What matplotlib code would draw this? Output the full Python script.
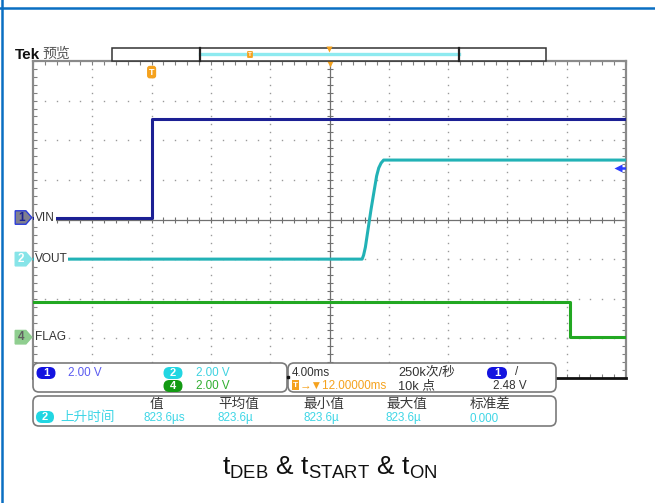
import numpy as np
import matplotlib
matplotlib.use('Agg')
import matplotlib.pyplot as plt
from matplotlib.patches import FancyBboxPatch, Polygon, Rectangle
from matplotlib.transforms import blended_transform_factory

plt.rcParams['font.family'] = ['Liberation Sans', 'Noto Sans CJK SC', 'DejaVu Sans']
plt.rcParams['mathtext.fontset'] = 'custom'
plt.rcParams['mathtext.rm'] = 'Liberation Sans'

# scope settings
time_per_div = 4.0          # ms/div
time_center = 12.0          # ms, horizontal position
volts_per_div = 2.0
ch_pos = {'VIN': 0.05, 'VOUT': -1.0, 'FLAG': -2.97}   # divisions
trig_level = 2.48

# waveforms (time in ms, level in V)
vin_t = [-8.0, 0.0, 0.0, 32.0]
vin_v = [0.0, 0.0, 4.97, 4.97]

vout_t = [-8.0, 14.20, 14.30, 14.42, 14.60, 14.80, 15.00, 15.18, 15.32, 15.48, 15.65, 32.0]
vout_v = [0.0, 0.0, 0.2, 0.6, 1.5, 2.5, 3.4, 4.2, 4.6, 4.85, 5.0, 5.0]

flag_t = [-8.0, 28.2, 28.2, 32.0]
flag_v = [1.77, 1.77, 0.0, 0.0]

# measurement readout
meas_names = ['值', '平均值', '最小值', '最大值', '标准差']
meas_vals = ['823.6µs', '823.6µ', '823.6µ', '823.6µ', '0.000']

W, H = 655, 503
fig = plt.figure(figsize=(W / 100, H / 100), dpi=100)
fig.patch.set_facecolor('white')

ax = fig.add_axes([33 / W, 1 - 378 / H, 593 / W, 317 / H])
x0 = time_center - 5 * time_per_div
x1 = time_center + 5 * time_per_div
ax.set_xlim(x0, x1)
ax.set_ylim(-4, 4)

grid_c = '#9a9a9a'
minor_x = np.arange(x0, x1 + 1e-9, time_per_div / 5)
minor_y = np.arange(-4, 4 + 1e-9, 0.2)
major_x = np.arange(x0 + time_per_div, x1 - 1e-9, time_per_div)
major_y = np.arange(-3, 4, 1)

# dotted graticule
for gx in major_x:
    if abs(gx - time_center) > 1e-6:
        ax.plot(np.full_like(minor_y, gx), minor_y, ls='none', marker='s', ms=1.0,
                color=grid_c, mec='none', zorder=1)
for gy in major_y:
    if gy != 0:
        ax.plot(minor_x, np.full_like(minor_x, gy), ls='none', marker='s', ms=1.0,
                color=grid_c, mec='none', zorder=1)

# center crosshair with ticks
ax.axhline(0, color='#707070', lw=0.9, zorder=1)
ax.axvline(time_center, color='#707070', lw=0.9, zorder=1)
ax.plot(minor_x, np.zeros_like(minor_x), ls='none', marker='|', ms=5, mew=0.8,
        color='#707070', zorder=1)
ax.plot(np.full_like(minor_y, time_center), minor_y, ls='none', marker='_', ms=5,
        mew=0.8, color='#707070', zorder=1)

ax.set_xticks(minor_x)
ax.set_yticks(minor_y)
ax.tick_params(direction='in', length=3, width=0.8, color='#808080',
               top=True, right=True, labelbottom=False, labelleft=False)
for s in ax.spines.values():
    s.set_color('#8a8a8a')
    s.set_linewidth(1.6)
ax.spines['bottom'].set_color('#111111')
ax.spines['bottom'].set_linewidth(2.0)


def to_div(v, name):
    return ch_pos[name] + np.asarray(v) / volts_per_div


c_vin = '#1c2094'
c_vout = '#22b2b6'
c_flag = '#22a822'
ax.plot(vin_t, to_div(vin_v, 'VIN'), color=c_vin, lw=2.2, zorder=3)
ax.plot(vout_t, to_div(vout_v, 'VOUT'), color=c_vout, lw=2.2, zorder=3)
ax.plot(flag_t, to_div(flag_v, 'FLAG'), color=c_flag, lw=2.2, zorder=3)

# channel ground markers and labels
blend = blended_transform_factory(ax.transAxes, ax.transData)
markers = [('VIN', '1', '#7f7f8f', '#2a3cd8', '#1c2094'),
           ('VOUT', '2', '#86e4e8', '#86e4e8', 'white'),
           ('FLAG', '4', '#8fce8f', '#8fce8f', '#606060')]
for name, num, fc, ec, tc in markers:
    yc = ch_pos[name]
    poly = Polygon([(-0.030, yc - 0.17), (-0.012, yc - 0.17), (-0.002, yc),
                    (-0.012, yc + 0.17), (-0.030, yc + 0.17)], closed=True,
                   transform=blend, fc=fc, ec=ec, lw=1.0, clip_on=False, zorder=5)
    ax.add_patch(poly)
    ax.text(-0.020, yc, num, transform=blend, ha='center', va='center', fontsize=8.5,
            color=tc, fontweight='bold', zorder=6, clip_on=False)
    ax.text(0.003, yc, name, transform=blend, ha='left', va='center', fontsize=8.6,
            color='#333333', zorder=6,
            bbox=dict(boxstyle='square,pad=0.08', fc='white', ec='none'))

# trigger marker, trigger position and trigger level
orange = '#f5a21e'
ax.text(0.0, 0.965, 'T', transform=blended_transform_factory(ax.transData, ax.transAxes),
        ha='center', va='center', fontsize=6.5, fontweight='bold', color='white', zorder=6,
        bbox=dict(boxstyle='round,pad=0.2,rounding_size=0.3', fc=orange, ec='none'))
ax.plot([time_center], [3.97], marker='v', ms=7, color=orange, mec='none',
        clip_on=False, zorder=6)
lvl = ch_pos['VIN'] + trig_level / volts_per_div
ax.plot([31.45], [lvl], marker='<', ms=5.5, color='#2a3cff', mec='none', zorder=6)
ax.plot([31.5, 32.0], [lvl, lvl], color='#2a3cff', lw=1.8, zorder=6)

# overlay in pixel units for the screen furniture
ov = fig.add_axes([0, 0, 1, 1], zorder=10)
ov.set_xlim(0, W)
ov.set_ylim(H, 0)
ov.axis('off')

blue = '#0a6fc2'
ov.plot([2, 2], [0, H], color=blue, lw=1.8)
ov.plot([0, W], [8, 8], color=blue, lw=1.8)

ov.text(15, 55, 'Tek', fontsize=11, fontweight='bold', color='#111111', va='center')
ov.text(42, 54, '预览', fontsize=10, color='#555555', va='center')

# record view bar
ov.add_patch(Rectangle((112, 48), 434, 13, fc='white', ec='#333333', lw=1.1))
ov.plot([200, 459], [54, 54], color='#8eeaf0', lw=2.4)
ov.plot([200, 200], [48, 61], color='#222222', lw=1.6)
ov.plot([459, 459], [48, 61], color='#222222', lw=1.6)
ov.text(250, 54.5, 'T', fontsize=4.5, color='white', fontweight='bold', ha='center',
        va='center', bbox=dict(boxstyle='round,pad=0.15', fc=orange, ec='none'))
ov.plot([329], [48.5], marker='v', ms=4.5, color=orange, mec='none')


def panel(x, y, w, h):
    ov.add_patch(FancyBboxPatch((x, y), w, h, boxstyle='round,pad=0,rounding_size=6',
                                fc='white', ec='#7a7a7a', lw=1.2))


def badge(x, y, s, fc, w=19, h=12):
    ov.add_patch(FancyBboxPatch((x - w / 2, y - h / 2), w, h,
                                boxstyle='round,pad=0,rounding_size=6', fc=fc, ec='none'))
    ov.text(x, y + 0.3, s, fontsize=8, fontweight='bold', color='white',
            ha='center', va='center')


panel(33, 363, 254, 29)
panel(288, 363, 268, 29)
panel(33, 396, 523, 30)
ov.plot([287.5], [377], marker='s', ms=1.8, color='#111111')

fs = 8.4
badge(46, 373, '1', '#1414e0')
ov.text(68, 373, '2.00 V', fontsize=fs, color='#5b5bf0', va='center')
badge(173, 373, '2', '#22d6e2')
ov.text(196, 373, '2.00 V', fontsize=fs, color='#3fd2e0', va='center')
badge(173, 386, '4', '#139a13')
ov.text(196, 386, '2.00 V', fontsize=fs, color='#2fae2f', va='center')

ov.text(292, 373, '4.00ms', fontsize=fs, color='#333333', va='center')
ov.text(398, 373, '250k次/秒', fontsize=fs + 0.8, color='#333333', va='center')
badge(497, 373, '1', '#1414e0', w=20)
ov.text(515, 372, '/', fontsize=fs, color='#333333', va='center')
ov.add_patch(Rectangle((292, 380), 7, 10, fc=orange, ec='none'))
ov.text(295.5, 385.3, 'T', fontsize=6, fontweight='bold', color='white', ha='center', va='center')
ov.text(300, 386, '→▼12.00000ms', fontsize=fs, color=orange, va='center',
        family=['Liberation Sans', 'DejaVu Sans'])
ov.text(398, 386, '10k 点', fontsize=fs + 0.8, color='#333333', va='center')
ov.text(493, 386, '2.48 V', fontsize=fs, color='#333333', va='center')

# measurement readout
head_x = [143, 218, 303, 386, 470]
badge(45, 417, '2', '#22d6e2', w=18)
ov.text(60, 417, '上升时间', fontsize=9.8, color='#3fd6e6', va='center')
for hx, name, val in zip(head_x, meas_names, meas_vals):
    cx = hx + 7 if name == '值' else hx
    ov.text(cx, 404, name, fontsize=9.8, color='#3a3a3a', va='center')
    ov.text(hx, 418.5, val, fontsize=fs, color='#3fd6e6', va='center')

ov.text(330, 468, r'$\mathrm{t_{DEB}}$ & $\mathrm{t_{START}}$ & $\mathrm{t_{ON}}$',
        fontsize=19, color='#111111', ha='center', va='center')

fig.savefig('out.png', dpi=100)
